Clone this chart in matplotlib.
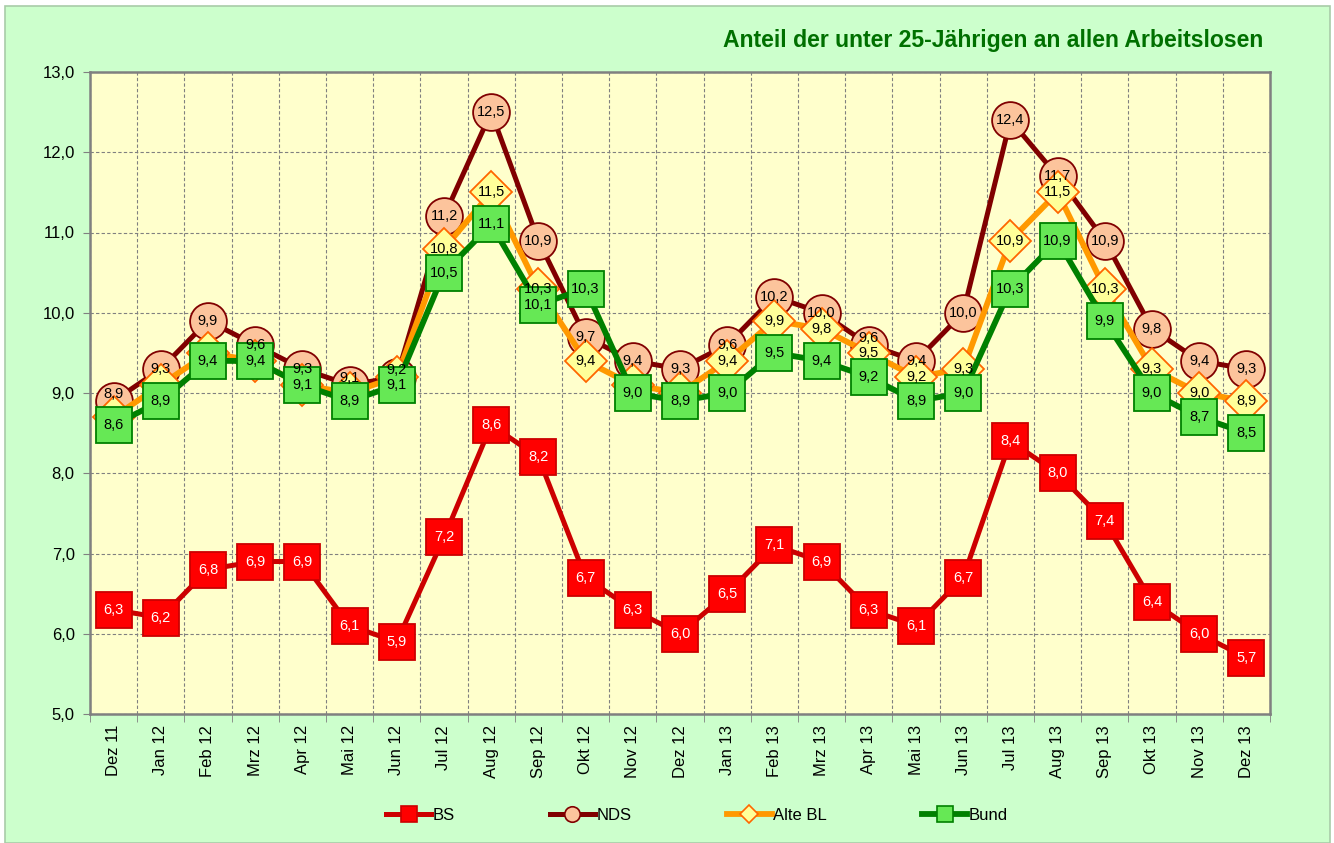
import matplotlib
matplotlib.use("Agg")
import matplotlib.pyplot as plt
import numpy as np
from matplotlib.patches import Rectangle

plt.rcParams['font.family'] = ['Liberation Sans', 'DejaVu Sans']

months = ["Dez 11", "Jan 12", "Feb 12", "Mrz 12", "Apr 12", "Mai 12", "Jun 12",
          "Jul 12", "Aug 12", "Sep 12", "Okt 12", "Nov 12", "Dez 12", "Jan 13",
          "Feb 13", "Mrz 13", "Apr 13", "Mai 13", "Jun 13", "Jul 13", "Aug 13",
          "Sep 13", "Okt 13", "Nov 13", "Dez 13"]

bs = [6.3, 6.2, 6.8, 6.9, 6.9, 6.1, 5.9, 7.2, 8.6, 8.2, 6.7, 6.3, 6.0,
      6.5, 7.1, 6.9, 6.3, 6.1, 6.7, 8.4, 8.0, 7.4, 6.4, 6.0, 5.7]
nds = [8.9, 9.3, 9.9, 9.6, 9.3, 9.1, 9.2, 11.2, 12.5, 10.9, 9.7, 9.4, 9.3,
       9.6, 10.2, 10.0, 9.6, 9.4, 10.0, 12.4, 11.7, 10.9, 9.8, 9.4, 9.3]
alte_bl = [8.7, 9.1, 9.5, 9.4, 9.1, 9.0, 9.2, 10.8, 11.5, 10.3, 9.4, 9.1, 9.0,
           9.4, 9.9, 9.8, 9.5, 9.2, 9.3, 10.9, 11.5, 10.3, 9.3, 9.0, 8.9]
bund = [8.6, 8.9, 9.4, 9.4, 9.1, 8.9, 9.1, 10.5, 11.1, 10.1, 10.3, 9.0, 8.9,
        9.0, 9.5, 9.4, 9.2, 8.9, 9.0, 10.3, 10.9, 9.9, 9.0, 8.7, 8.5]

# Alte BL labels not shown in the original (hidden behind the Bund squares)
alte_bl_no_label = ["Dez 11", "Jan 12", "Feb 12", "Mrz 12", "Apr 12", "Mai 12",
                    "Jun 12", "Nov 12", "Dez 12"]
# NDS labels that sit a little higher in the original
nds_raised = ["Dez 11", "Mai 12", "Jun 12", "Apr 13"]

W, H = 1334, 843
fig = plt.figure(figsize=(W / 100, H / 100), dpi=100, facecolor="white")
fig.patches.append(Rectangle((5 / W, 0), 1325 / W, 1 - 6 / H, transform=fig.transFigure,
                             facecolor="#ccffcc", edgecolor="#a8cca8", lw=1.2, zorder=-10))

ax = fig.add_axes([90 / W, 1 - 714 / H, 1180 / W, 642 / H])
ax.set_facecolor("#ffffcc")

x = np.arange(len(months))

# series: name, values, line colour, marker, marker size, fill, edge, line width, label colour, skip, raise
series = [
    ("BS", bs, "#cc0000", "s", 26, "#ff0000", "#cc0000", 3.6, "white", [], []),
    ("NDS", nds, "#800000", "o", 26.5, "#fcc49c", "#800000", 3.6, "black", [], nds_raised),
    ("Alte BL", alte_bl, "#ff9900", "D", 21, "#ffff99", "#ff6600", 4.2, "black", alte_bl_no_label, []),
    ("Bund", bund, "#008000", "s", 26, "#66e855", "#008000", 4.2, "black", [], []),
]

handles = []
for i, (name, vals, lc, mk, ms, mfc, mec, lw, tc, skip, up) in enumerate(series):
    ax.plot(x, vals, color=lc, lw=lw, marker=mk, ms=ms, mfc=mfc, mec=mec,
            mew=1.3, zorder=3 + i, solid_joinstyle="round")
    for xi, v, m in zip(x, vals, months):
        if m in skip:
            continue
        dy = 5 if m in up else 0
        ax.annotate(f"{v:.1f}".replace(".", ","), (xi, v), xytext=(0, dy),
                    textcoords="offset points", ha="center", va="center",
                    fontsize=10.5, color=tc, zorder=20)
    h, = ax.plot([], [], color=lc, lw=lw, marker=mk, ms=ms * 0.42, mfc=mfc,
                 mec=mec, mew=1.2, label=name)
    handles.append(h)

ax.set_xlim(-0.5, len(months) - 0.5)
ax.set_ylim(5, 13)
ax.set_yticks(np.arange(5, 14, 1))
ax.set_yticklabels([f"{v:.1f}".replace(".", ",") for v in np.arange(5, 14, 1)], fontsize=12)
ax.set_xticks(x)
ax.set_xticklabels(months, rotation=90, fontsize=12)
ax.set_xticks(np.arange(-0.5, len(months), 1), minor=True)
ax.tick_params(axis="x", which="major", length=0, pad=8)
ax.tick_params(axis="x", which="minor", length=6, color="#808080", direction="out")
ax.tick_params(axis="y", length=5, color="#808080", pad=6)

ax.grid(which="minor", axis="x", color="#808080", ls=(0, (3, 2)), lw=0.8)
ax.grid(which="major", axis="y", color="#808080", ls=(0, (3, 2)), lw=0.8)
ax.set_axisbelow(True)
for sp in ax.spines.values():
    sp.set_color("#808080")
    sp.set_linewidth(1.8)

fig.text(1263 / W, 1 - 40 / H, "Anteil der unter 25-Jährigen an allen Arbeitslosen",
         ha="right", va="center", fontsize=16.6, fontweight="bold", color="#007000")

fig.legend(handles=handles, loc="center", bbox_to_anchor=(697 / W, 1 - 815 / H),
           ncol=4, frameon=False, fontsize=12, handlelength=2.7, handletextpad=0.1,
           columnspacing=5.7)

fig.savefig("out.png", dpi=100, facecolor=fig.get_facecolor())
